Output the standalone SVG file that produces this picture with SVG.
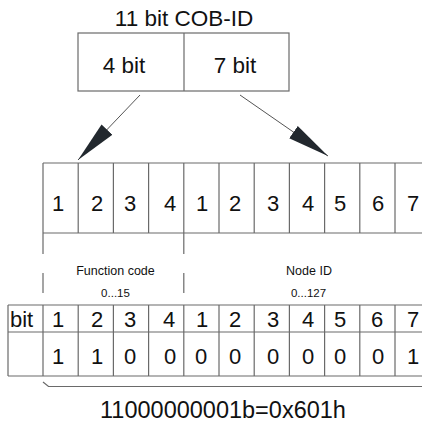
<svg xmlns="http://www.w3.org/2000/svg" width="422" height="424" viewBox="0 0 422 424">
  <style>
    text { font-family: "Liberation Sans", Arial, sans-serif; fill: #111; }
    .big { font-size: 22.5px; text-anchor: middle; }
    .cell { font-size: 22px; text-anchor: middle; }
    .small { font-size: 12.5px; text-anchor: middle; }
    .tiny { font-size: 11.5px; text-anchor: middle; }
    .grid { fill: none; stroke: #6a6a6a; stroke-width: 1.2; }
    .link { fill: none; stroke: #555; stroke-width: 1; }
  </style>
  <defs>
    <marker id="head" markerUnits="userSpaceOnUse" markerWidth="44" markerHeight="18" viewBox="0 -8 44 16" refX="42" refY="0" orient="auto">
      <path d="M0,-7.5 L42,0 L0,7.5 Z" fill="#22282e"/>
    </marker>
  </defs>
  <rect width="422" height="424" fill="#fff"/>

  <!-- 11 bit identifier split into 4 + 7 bits -->
  <g id="cob-id">
    <text class="big" x="184" y="26">11 bit COB-ID</text>
    <rect class="grid" x="78" y="33" width="211" height="58"/>
    <line class="grid" x1="184" y1="33" x2="184" y2="91"/>
    <text class="big" x="124" y="73">4 bit</text>
    <text class="big" x="235" y="73">7 bit</text>
  </g>

  <g id="connectors">
    <line class="link" x1="140" y1="95" x2="78" y2="160" marker-end="url(#head)"/>
    <line class="link" x1="240" y1="95" x2="328" y2="156" marker-end="url(#head)"/>
  </g>

  <!-- bit positions row -->
  <g id="bit-row">
    <path class="grid" d="M43,163 H430 M43,233 H430 M43,163 V233 M78.2,163 V233 M113.4,163 V233 M148.6,163 V233 M183.8,163 V233 M219,163 V233 M254.2,163 V233 M289.4,163 V233 M324.6,163 V233 M359.8,163 V233 M395,163 V233"/>
    <text class="cell" x="58" y="211">1</text>
    <text class="cell" x="97" y="211">2</text>
    <text class="cell" x="130" y="211">3</text>
    <text class="cell" x="170" y="211">4</text>
    <text class="cell" x="202" y="211">1</text>
    <text class="cell" x="235" y="211">2</text>
    <text class="cell" x="273" y="211">3</text>
    <text class="cell" x="308" y="211">4</text>
    <text class="cell" x="340" y="211">5</text>
    <text class="cell" x="378" y="211">6</text>
    <text class="cell" x="413" y="211">7</text>
  </g>

  <!-- field ranges -->
  <g id="fields">
    <path class="grid" d="M43,233 V254 M43,273 V293 M183.8,233 V254 M183.8,273 V293"/>
    <text class="small" x="115.5" y="275">Function code</text>
    <text class="tiny" x="115.5" y="297">0...15</text>
    <text class="small" x="309" y="275">Node ID</text>
    <text class="tiny" x="308.5" y="297">0...127</text>
  </g>

  <!-- bit values table -->
  <g id="value-table">
    <path class="grid" d="M8,305 H430 M8,332 H430 M8,376 H430 M8,305 V376 M43,305 V376 M78.2,305 V376 M113.4,305 V376 M148.6,305 V376 M183.8,305 V376 M219,305 V376 M254.2,305 V376 M289.4,305 V376 M324.6,305 V376 M359.8,305 V376 M395,305 V376"/>
    <text class="cell" x="10" y="327" style="text-anchor:start">bit</text>
    <text class="cell" x="58" y="327">1</text>
    <text class="cell" x="97" y="327">2</text>
    <text class="cell" x="130" y="327">3</text>
    <text class="cell" x="169" y="327">4</text>
    <text class="cell" x="202" y="327">1</text>
    <text class="cell" x="235" y="327">2</text>
    <text class="cell" x="273" y="327">3</text>
    <text class="cell" x="308" y="327">4</text>
    <text class="cell" x="340" y="327">5</text>
    <text class="cell" x="377" y="327">6</text>
    <text class="cell" x="413" y="327">7</text>
    <text class="cell" x="58" y="364">1</text>
    <text class="cell" x="97" y="364">1</text>
    <text class="cell" x="130" y="364">0</text>
    <text class="cell" x="170" y="364">0</text>
    <text class="cell" x="201" y="364">0</text>
    <text class="cell" x="235" y="364">0</text>
    <text class="cell" x="273" y="364">0</text>
    <text class="cell" x="308" y="364">0</text>
    <text class="cell" x="340" y="364">0</text>
    <text class="cell" x="378" y="364">0</text>
    <text class="cell" x="413" y="364">1</text>
  </g>

  <!-- resulting identifier -->
  <g id="result">
    <path class="grid" d="M43,382 L48.5,386.5 H430"/>
    <text x="223" y="418" style="font-size:23.5px;text-anchor:middle">11000000001b=0x601h</text>
  </g>
</svg>
